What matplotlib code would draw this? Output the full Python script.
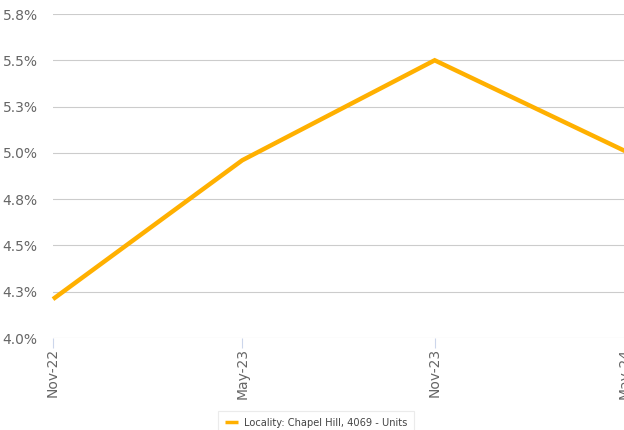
import matplotlib
matplotlib.use("Agg")
import matplotlib.pyplot as plt
import matplotlib.dates as mdates
import datetime as dt

# data
dates = [dt.date(2022, 11, 1), dt.date(2023, 5, 1), dt.date(2023, 11, 1), dt.date(2024, 5, 1)]
date_labels = ["Nov-22", "May-23", "Nov-23", "May-24"]
values = [4.21, 4.96, 5.50, 5.01]
y_ticks = [4.0, 4.25, 4.5, 4.75, 5.0, 5.25, 5.5, 5.75]
y_tick_labels = ["4.0%", "4.3%", "4.5%", "4.8%", "5.0%", "5.3%", "5.5%", "5.8%"]
series_name = "Locality: Chapel Hill, 4069 - Units"

fig = plt.figure(figsize=(6.24, 4.30), dpi=100)
ax = fig.add_axes([53 / 624, 1 - 338 / 430, 572 / 624, 324 / 430])

xs = mdates.date2num(dates)
line, = ax.plot(xs, values, color="#FFB000", linewidth=3.2, solid_joinstyle="miter",
                solid_capstyle="butt", label=series_name, clip_on=False, zorder=3)

ax.set_xlim(xs[0], xs[-1])
ax.set_ylim(4.0, 5.75)
ax.set_yticks(y_ticks)
ax.set_yticklabels(y_tick_labels)
ax.set_xticks(xs)
ax.set_xticklabels(date_labels, rotation=90)

ax.grid(axis="y", color="#cccccc", linewidth=0.8)
ax.set_axisbelow(True)
for side in ["left", "right", "top", "bottom"]:
    ax.spines[side].set_visible(False)
ax.tick_params(axis="y", length=0, pad=11, labelsize=10, labelcolor="#666666")
ax.tick_params(axis="x", length=7, width=0.8, color="#ccd6eb", pad=0, labelsize=10,
               labelcolor="#666666")

leg = fig.legend(handles=[line], loc="upper center", bbox_to_anchor=(316 / 624, 1 - 406 / 430),
                 frameon=True, fancybox=False, fontsize=7.1, handlelength=1.3,
                 handletextpad=0.6, borderpad=0.7, labelcolor="#444444")
leg.get_frame().set_edgecolor("#e6e6e6")
leg.get_frame().set_linewidth(0.8)
for h in leg.legend_handles:
    h.set_linewidth(2.5)

fig.savefig("out.png", dpi=100)
